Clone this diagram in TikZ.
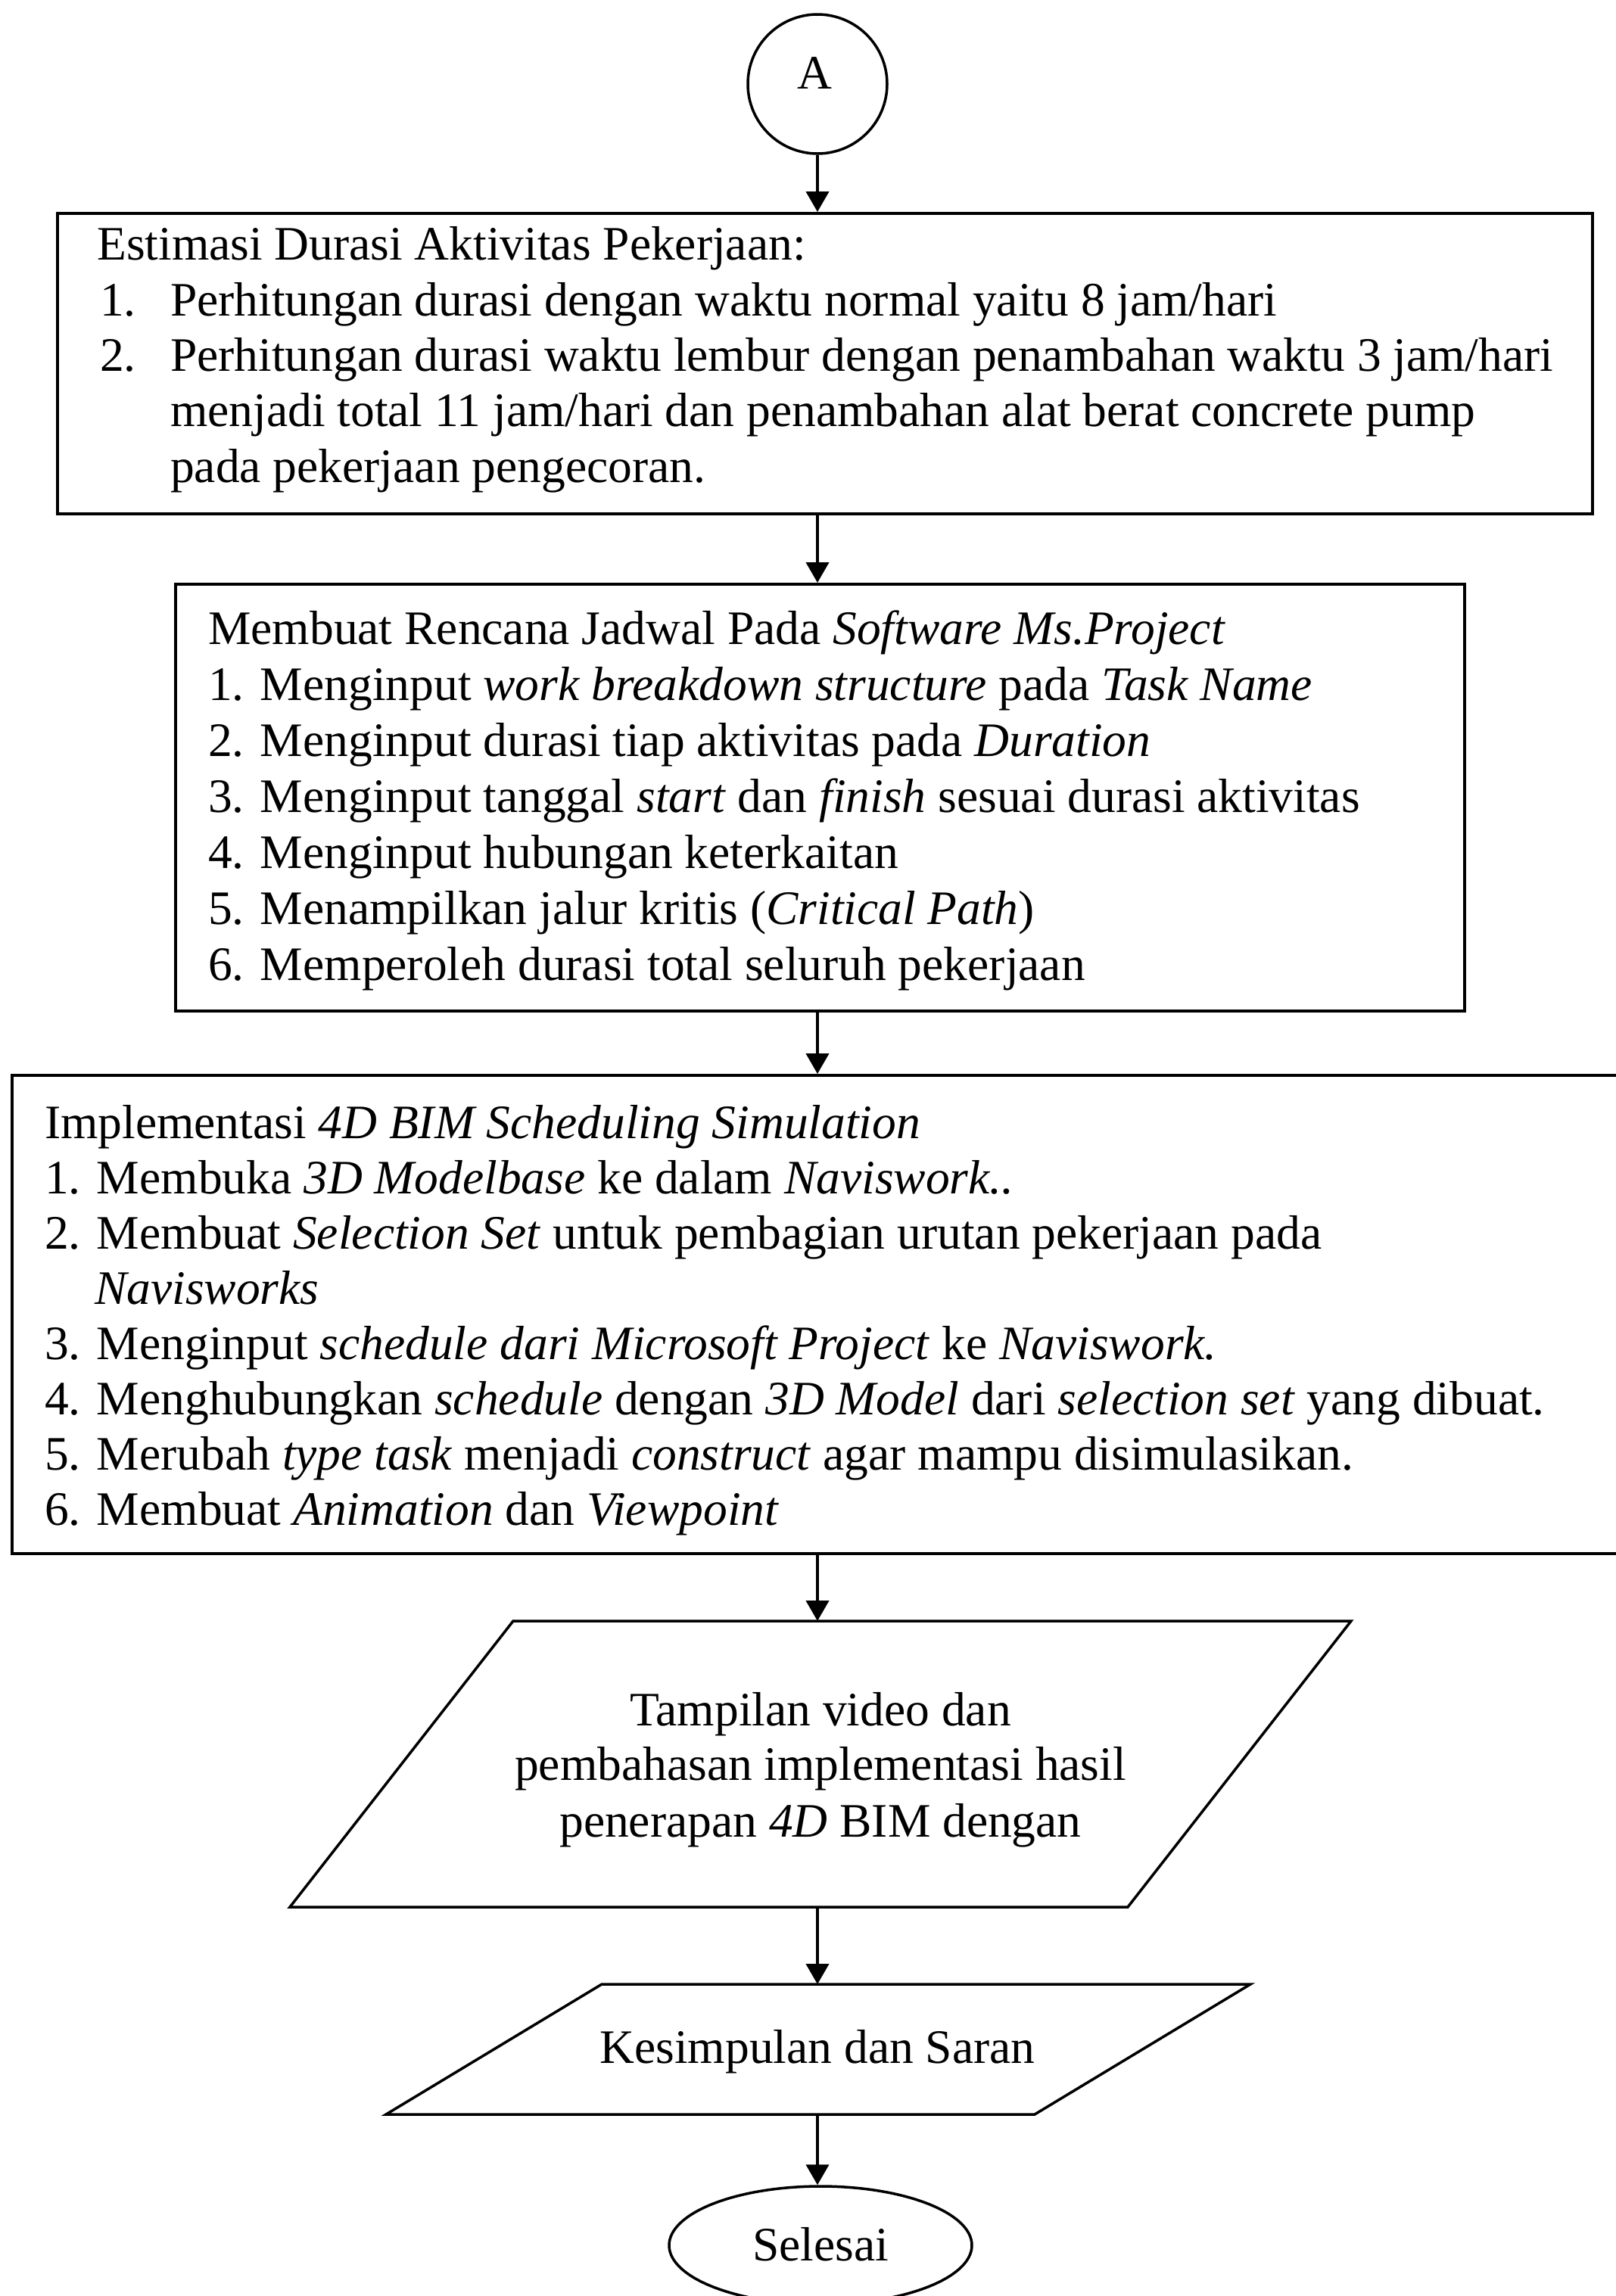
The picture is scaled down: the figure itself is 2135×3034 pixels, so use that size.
\documentclass[tikz,border=0pt]{standalone}
\usepackage{fontspec}
\setmainfont{Liberation Serif}
\usetikzlibrary{arrows.meta,shapes.geometric}
\tikzset{
  boxnode/.style={draw, rectangle, line width=4pt, inner sep=0pt},
  txt/.style={anchor=base west, inner sep=0pt, font=\fontsize{63.5pt}{74pt}\selectfont},
  ctxt/.style={anchor=base, inner sep=0pt, align=center, font=\fontsize{63.5pt}{74pt}\selectfont},
  shapeline/.style={line width=3.5pt, line join=miter},
  arr/.style={line width=4pt, -{Triangle[width=30pt,length=27pt]}}
}
\begin{document}
\begin{tikzpicture}[x=1pt,y=-1pt]
\useasboundingbox (0,0) rectangle (2135,3034);

% connector A
\node[draw, circle, line width=3.5pt, minimum size=184pt, inner sep=0pt] (circA) at (1080,111) {};
\node[ctxt] (labA) at (1076,117) {A};

% Box 1
\node[boxnode, minimum width=2028pt, minimum height=397pt] (box1) at (1090,480.5) {};
\node[txt] (b1t0) at (128,343) {Estimasi Durasi Aktivitas Pekerjaan:};
\node[txt] (b1n1) at (132,417) {1.};
\node[txt] (b1t1) at (225,417) {Perhitungan durasi dengan waktu normal yaitu 8 jam/hari};
\node[txt] (b1n2) at (132,490) {2.};
\node[txt] (b1t2) at (225,490) {Perhitungan durasi waktu lembur dengan penambahan waktu 3 jam/hari};
\node[txt] (b1t3) at (225,563) {menjadi total 11 jam/hari dan penambahan alat berat concrete pump};
\node[txt] (b1t4) at (225,637) {pada pekerjaan pengecoran.};

% Box 2
\node[boxnode, minimum width=1703pt, minimum height=564pt] (box2) at (1083.5,1054) {};
\node[txt] (b2t0) at (275,851) {Membuat Rencana Jadwal Pada \textit{Software Ms.Project}};
\node[txt] (b2t1) at (275,925) {1. Menginput \textit{work breakdown structure} pada \textit{Task Name}};
\node[txt] (b2t2) at (275,999) {2. Menginput durasi tiap aktivitas pada \textit{Duration}};
\node[txt] (b2t3) at (275,1073) {3. Menginput tanggal \textit{start} dan \textit{finish} sesuai durasi aktivitas};
\node[txt] (b2t4) at (275,1147) {4. Menginput hubungan keterkaitan};
\node[txt] (b2t5) at (275,1221) {5. Menampilkan jalur kritis (\textit{Critical Path})};
\node[txt] (b2t6) at (275,1295) {6. Memperoleh durasi total seluruh pekerjaan};

% Box 3
\node[boxnode, minimum width=2134pt, minimum height=632pt] (box3) at (1083,1737) {};
\node[txt] (b3t0) at (59,1504) {Implementasi \textit{4D BIM Scheduling Simulation}};
\node[txt] (b3t1) at (59,1577) {1. Membuka \textit{3D Modelbase} ke dalam \textit{Naviswork..}};
\node[txt] (b3t2) at (59,1650) {2. Membuat \textit{Selection Set} untuk pembagian urutan pekerjaan pada};
\node[txt] (b3t2b) at (125,1723) {\textit{Navisworks}};
\node[txt] (b3t3) at (59,1796) {3. Menginput \textit{schedule dari Microsoft Project} ke \textit{Naviswork.}};
\node[txt] (b3t4) at (59,1869) {4. Menghubungkan \textit{schedule} dengan \textit{3D Model} dari \textit{selection set} yang dibuat.};
\node[txt] (b3t5) at (59,1942) {5. Merubah \textit{type task} menjadi \textit{construct} agar mampu disimulasikan.};
\node[txt] (b3t6) at (59,2015) {6. Membuat \textit{Animation} dan \textit{Viewpoint}};

% Parallelogram 1
\coordinate (p1tl) at (678,2142);
\coordinate (p1tr) at (1785,2142);
\coordinate (p1br) at (1490,2520);
\coordinate (p1bl) at (383,2520);
\coordinate (p1top) at (1080,2142);
\coordinate (p1bot) at (1080,2520);
\draw[shapeline] (p1tl) -- (p1tr) -- (p1br) -- (p1bl) -- cycle;
\node[ctxt] (p1a) at (1084,2280) {Tampilan video dan};
\node[ctxt] (p1b) at (1084,2352) {pembahasan implementasi hasil};
\node[ctxt] (p1c) at (1084,2427) {penerapan \textit{4D} BIM dengan};

% Parallelogram 2
\coordinate (p2tl) at (795,2622);
\coordinate (p2tr) at (1652,2622);
\coordinate (p2br) at (1367,2794);
\coordinate (p2bl) at (510,2794);
\coordinate (p2top) at (1080,2622);
\coordinate (p2bot) at (1080,2794);
\draw[shapeline] (p2tl) -- (p2tr) -- (p2br) -- (p2bl) -- cycle;
\node[ctxt] (p2a) at (1080,2726) {Kesimpulan dan Saran};

% End
\node[draw, ellipse, line width=3.5pt, minimum width=400pt, minimum height=156pt, inner sep=0pt] (endN) at (1084,2967) {};
\node[ctxt] (endT) at (1084,2987) {Selesai};

% Connectors
\draw[arr] (circA.south) -- (circA.south |- box1.north);
\draw[arr] (box1.south -| circA) -- (box2.north -| circA);
\draw[arr] (box2.south -| circA) -- (box3.north -| circA);
\draw[arr] (box3.south -| circA) -- (p1top);
\draw[arr] (p1bot) -- (p2top);
\draw[arr] (p2bot) -- (p2bot |- endN.north);
\end{tikzpicture}
\end{document}
